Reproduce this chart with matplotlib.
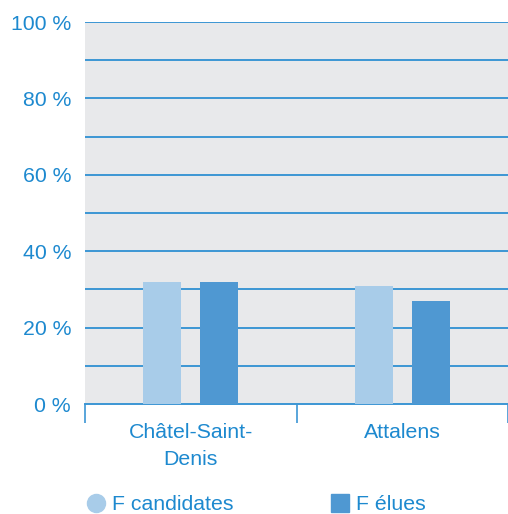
import matplotlib
matplotlib.use("Agg")
import matplotlib.pyplot as plt
from matplotlib.lines import Line2D

# data
categories = ["Châtel-Saint-\nDenis", "Attalens"]
f_candidates = [32, 31]
f_elues = [32, 27]
series_labels = ["F candidates", "F élues"]
yticks = [0, 20, 40, 60, 80, 100]

TXT = "#1d89cf"
GRIDC = "#3c96d4"
LIGHT = "#a8cce9"
DARK = "#4f98d2"
BG = "#e8e9eb"
FS = 15.3

plt.rcParams["font.family"] = ["Liberation Sans", "DejaVu Sans"]

fig = plt.figure(figsize=(5.08, 5.14), dpi=100)
ax = fig.add_axes([85 / 508, 110 / 514, 1 - 85 / 508, (404 - 22) / 514])
ax.set_facecolor(BG)

xs = range(len(categories))
w = 0.18
off = 0.135
ax.bar([x - off for x in xs], f_candidates, width=w, color=LIGHT, zorder=3)
ax.bar([x + off for x in xs], f_elues, width=w, color=DARK, zorder=3)

for v in range(10, 101, 10):
    ax.axhline(v, color=GRIDC, linewidth=1.4, zorder=2)

ax.set_ylim(0, 100)
ax.set_xlim(-0.5, 1.5)
ax.set_yticks(yticks)
ax.set_yticklabels([f"{t} %" for t in yticks], fontsize=FS, color=TXT)
ax.tick_params(axis="y", length=0, pad=10)

ax.set_xticks(list(xs))
ax.set_xticklabels(categories, fontsize=FS, color=TXT, linespacing=1.5)
ax.tick_params(axis="x", which="major", length=0, pad=14)
ax.set_xticks([-0.5, 0.5, 1.5], minor=True)
ax.tick_params(axis="x", which="minor", length=14, width=1.2, color=GRIDC,
               direction="out")

for side in ("top", "right", "left"):
    ax.spines[side].set_visible(False)
ax.spines["bottom"].set_color(GRIDC)
ax.spines["bottom"].set_linewidth(1.4)

handles = [
    Line2D([], [], marker="o", linestyle="none", markersize=13,
           markerfacecolor=LIGHT, markeredgecolor=LIGHT),
    Line2D([], [], marker="s", linestyle="none", markersize=13,
           markerfacecolor=DARK, markeredgecolor=DARK),
]
leg = fig.legend(handles, series_labels, loc="center left",
                 bbox_to_anchor=(86 / 508, 1 - 505 / 514), ncol=2,
                 frameon=False, fontsize=FS, handlelength=0.9,
                 handletextpad=0.3, columnspacing=4.6, borderpad=0,
                 borderaxespad=0)
for t in leg.get_texts():
    t.set_color(TXT)

fig.savefig("out.png", dpi=100, facecolor="white")
